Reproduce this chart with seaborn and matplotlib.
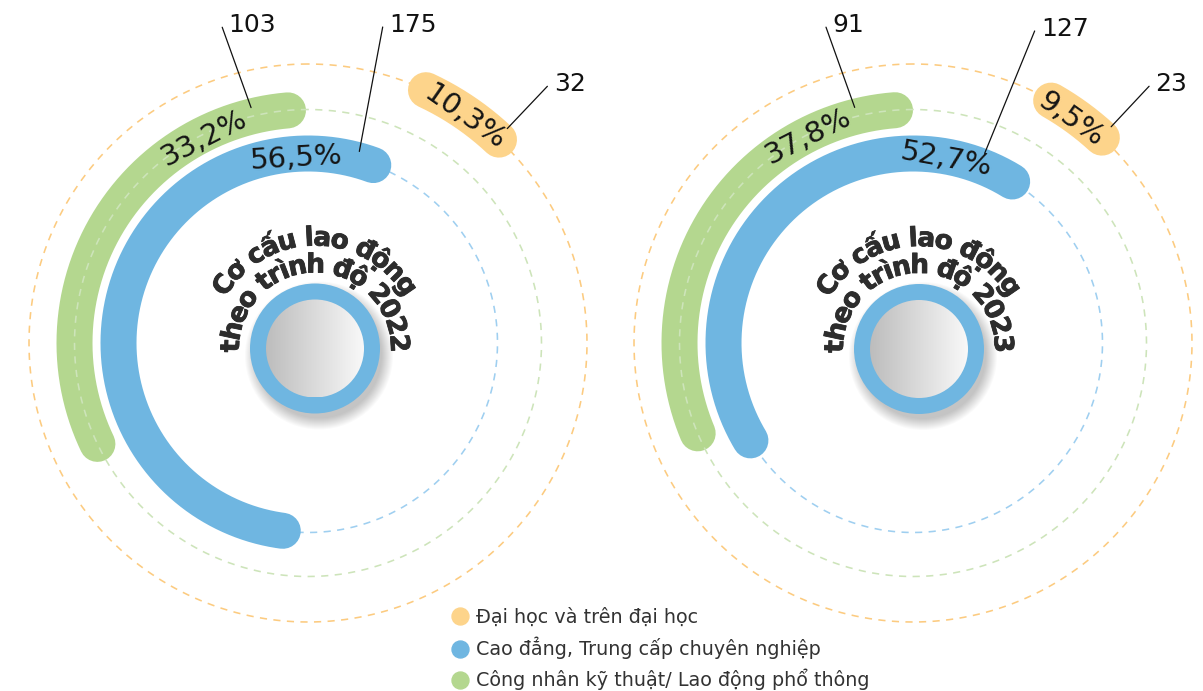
import numpy as np
import seaborn as sns
import matplotlib.pyplot as plt
import matplotlib.patheffects as pe
from matplotlib.lines import Line2D
from matplotlib.patches import Circle
from matplotlib.font_manager import FontProperties, findfont, get_font

# data
categories = ["Đại học và trên đại học",
              "Cao đẳng, Trung cấp chuyên nghiệp",
              "Công nhân kỹ thuật/ Lao động phổ thông"]
years = [2022, 2023]
counts_2022 = [32, 175, 103]
counts_2023 = [23, 127, 91]
pct_2022 = [10.3, 56.5, 33.2]
pct_2023 = [9.5, 52.7, 37.8]
title_line1 = "Cơ cấu lao động"
title_line2 = "theo trình độ"

counts = {2022: counts_2022, 2023: counts_2023}
pcts = {2022: pct_2022, 2023: pct_2023}

# style / layout
colors = ["#FDD48B", "#6FB6E1", "#B4D78F"]
guide_colors = ["#FCCB80", "#9FCFF0", "#CDE4BA"]
W, H, DPI = 1203, 691, 100
RAX = 300
HUB = 135
ring_r = [279, 189.5, 233.5]
bar_px = 36
deg_per_pct = {2022: 3.6, 2023: 3.1}
ring_scale = [0.69, 1.0, 1.0]
start_deg = {2022: [-46.9, -25.6, 0.5], 2023: [-46.3, -37.0, 0.0]}
centers = {2022: (308, 343), 2023: (913, 343)}
hub_centers = {2022: (315, 348.5), 2023: (919, 349)}
pct_pos = {2022: [(-34.9, 275), (3.5, 185), (27.0, 229.6)],
           2023: [(-35.2, 274), (-10.3, 187), (26.8, 231.4)]}
leader_pos = {2022: [((-42.9, 292.7), (-43.0, 351)), ((-15.0, 198.3), (-13.3, 324.7)), ((13.6, 242.2), (15.2, 327.2))],
              2023: [((-42.5, 293.3), (-42.6, 348.8)), ((-20.7, 202.7), (-21.3, 334.9)), ((13.9, 242.7), (15.4, 327.6))]}

sns.set_theme(style="white")
plt.rcParams['font.family'] = ['DejaVu Sans']

px2pt = 72 / DPI
bar_lw = bar_px * px2pt


def char_advances(s, fp):
    font = get_font(findfont(fp))
    font.set_size(fp.get_size_in_points(), 72)
    adv = []
    for ch in s:
        g = font.load_char(ord(ch))
        adv.append(g.linearHoriAdvance / 65536 / px2pt)
    return np.array(adv)


def curved_text(ax, s, r_base, r_space, fp, color):
    adv = char_advances(s, fp)
    mids = np.cumsum(adv) - adv / 2 - adv.sum() / 2
    heavy = [pe.withStroke(linewidth=0.6, foreground=color)]
    for ch, m in zip(s, mids):
        a = m / r_space
        ax.text(r_base * np.sin(a), r_base * np.cos(a), ch, fontproperties=fp, color=color,
                ha='center', va='baseline', rotation=-np.degrees(a), rotation_mode='anchor',
                path_effects=heavy)


fig = plt.figure(figsize=(W / DPI, H / DPI), dpi=DPI)

for year in years:
    cx, cy = centers[year]
    ax = fig.add_axes([(cx - RAX) / W, (H - cy - RAX) / H, 2 * RAX / W, 2 * RAX / H], projection='polar')
    ax.set_theta_zero_location('N')
    ax.set_theta_direction(1)

    full = np.linspace(0, 2 * np.pi, 721)
    for i in range(3):
        z = 3 if i == 2 else 1
        ax.plot(full, np.full_like(full, ring_r[i]), color=guide_colors[i], lw=1.15,
                linestyle=(0, (4.5, 4)), zorder=z)

    for i in range(3):
        span = pcts[year][i] * deg_per_pct[year] * ring_scale[i]
        cap = np.degrees((bar_px / 2) / ring_r[i])
        a0 = start_deg[year][i] + cap
        a1 = start_deg[year][i] + span - cap
        th = np.deg2rad(np.linspace(a0, a1, 300))
        sns.lineplot(x=th, y=np.full_like(th, ring_r[i]), ax=ax, sort=False, estimator=None,
                     color=colors[i], linewidth=bar_lw, solid_capstyle='round', zorder=2)

        tpos, rpos = pct_pos[year][i]
        ax.text(np.deg2rad(tpos), rpos, f"{pcts[year][i]:.1f}".replace('.', ',') + "%",
                ha='center', va='center', rotation=tpos, rotation_mode='anchor',
                fontsize=21, color='#151515', zorder=5)

        (ti, ri), (to, ro) = leader_pos[year][i]
        ax.annotate('', xy=(np.deg2rad(ti), ri), xytext=(np.deg2rad(to), ro),
                    arrowprops=dict(arrowstyle='-', color='#111111', lw=0.9, shrinkA=0, shrinkB=0),
                    annotation_clip=False, zorder=6)
        ax.annotate(str(counts[year][i]), xy=(np.deg2rad(to), ro), xytext=(4.5, 1.5),
                    textcoords='offset points', ha='left', va='center', fontsize=18,
                    color='#111111', annotation_clip=False)

    ax.set_ylim(0, RAX)
    ax.set_axis_off()

    # hub: ring, gradient disc and curved title
    hx, hy = hub_centers[year]
    hub = fig.add_axes([(hx - HUB) / W, (H - hy - HUB) / H, 2 * HUB / W, 2 * HUB / H])
    hub.set_axis_off()
    for k in range(12):
        hub.add_patch(Circle((4, -7), 63 + k * 1.0, color='black', alpha=0.02, lw=0, zorder=1))
    hub.add_patch(Circle((0, 0), 65, color=colors[1], lw=0, zorder=2))
    grad = np.linspace(0.74, 0.975, 256)
    img = np.dstack([np.tile(grad, (64, 1))] * 3)
    im = hub.imshow(img, extent=(-49, 49, -49, 49), zorder=3, interpolation='bilinear')
    im.set_clip_path(Circle((0, 0), 49, transform=hub.transData))
    hub.set_xlim(-HUB, HUB)
    hub.set_ylim(-HUB, HUB)

    fp = FontProperties(family='DejaVu Sans', weight='bold', size=19)
    curved_text(hub, title_line1, 103, 113, fp, '#2d2d2d')
    curved_text(hub, f"{title_line2} {year}", 76, 86, fp, '#2d2d2d')

handles = [Line2D([0], [0], marker='o', linestyle='', markersize=12.2,
                  markerfacecolor=c, markeredgecolor=c) for c in colors]
fig.legend(handles, categories, loc='upper left', bbox_to_anchor=(451 / W, 1 - 608 / H),
           frameon=False, fontsize=13.8, handlelength=0.9, handletextpad=0.4,
           labelspacing=0.5, borderpad=0, borderaxespad=0, labelcolor='#333333')

fig.savefig('out.png', dpi=DPI)
